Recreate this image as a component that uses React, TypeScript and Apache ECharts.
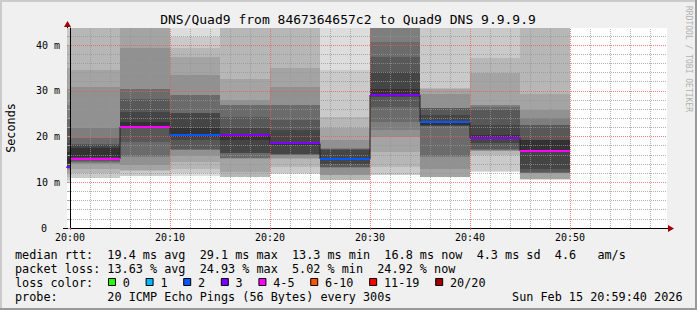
import React, { useEffect, useRef } from 'react';
import * as echarts from 'echarts';

const MONO = '"DejaVu Sans Mono", monospace';

const TITLE = 'DNS/Quad9 from 8467364657c2 to Quad9 DNS 9.9.9.9';
const Y_NAME = 'Seconds';
const WATERMARK = 'RRDTOOL / TOBI OETIKER';

// time window of the graph
const RANGE_START = '19:59:42';
const RANGE_END = '20:59:42';
const STEP_MINUTES = 5;

// one entry per 5-minute step (start time of the step)
const stepStarts = ['19:55', '20:00', '20:05', '20:10', '20:15', '20:20', '20:25', '20:30', '20:35', '20:40', '20:45'];
const medianRtt = [13.3, 15.1, 22.1, 20.4, 20.4, 18.5, 15.1, 29.1, 23.2, 19.7, 16.8];
const lostPings = [3, 4, 5, 2, 3, 3, 2, 3, 2, 3, 5];

// sorted round-trip times (ms) of the 20 ping slots of each step
const rtts1955 = [10.1, 10.6, 11.2, 12.0, 12.6, 13.0, 13.2, 13.4, 13.6, 13.8, 16.7, 18.5, 21.8, 24.0, 27.0, 30.5, 35.0, 40.0, 48.0, 55.0];
const rtts2000 = [10.9, 11.0, 11.95, 13.0, 13.9, 14.3, 14.5, 14.7, 15.0, 15.6, 17.4, 18.1, 18.3, 19.6, 21.8, 30.9, 34.5, 48.0, 53.0, 58.0];
const rtts2005 = [11.3, 11.4, 12.5, 12.6, 13.8, 15.6, 15.7, 18.9, 21.9, 22.0, 23.2, 25.3, 28.2, 30.4, 30.5, 39.3, 48.0, 52.0, 56.0, 60.0];
const rtts2010 = [11.4, 12.0, 13.0, 14.5, 15.8, 17.0, 17.1, 17.2, 19.2, 19.8, 21.8, 25.1, 25.2, 29.1, 29.2, 33.4, 37.4, 39.3, 41.8, 50.0];
const rtts2015 = [11.1, 11.15, 11.2, 12.3, 15.2, 15.25, 15.3, 16.3, 16.4, 19.2, 20.4, 21.8, 24.3, 26.9, 27.0, 28.0, 32.7, 50.0, 55.0, 60.0];
const rtts2020 = [11.9, 12.0, 13.4, 15.2, 15.3, 16.0, 16.05, 16.1, 16.15, 18.1, 18.6, 21.4, 23.6, 26.9, 27.0, 30.9, 34.9, 50.0, 55.0, 60.0];
const rtts2025 = [10.5, 10.55, 10.6, 11.5, 11.6, 13.2, 13.3, 13.4, 14.0, 14.9, 15.3, 17.0, 17.2, 17.3, 17.4, 19.2, 21.8, 24.3, 34.5, 50.0];
const rtts2030 = [11.5, 11.6, 13.4, 16.7, 20.0, 21.5, 23.2, 26.5, 28.7, 29.0, 30.5, 34.2, 37.4, 40.7, 48.0, 52.0, 55.0, 58.0, 62.0, 66.0];
const rtts2035 = [11.1, 11.15, 11.2, 11.25, 13.0, 15.6, 15.7, 22.3, 22.4, 22.6, 23.5, 24.7, 26.2, 26.25, 26.3, 29.4, 30.5, 30.6, 55.0, 60.0];
const rtts2040 = [12.3, 12.4, 16.0, 16.8, 16.9, 17.0, 17.1, 17.3, 18.5, 19.5, 20.3, 22.5, 25.8, 26.5, 26.8, 27.0, 33.8, 37.1, 50.0, 60.0];
const rtts2045 = [10.6, 10.65, 10.7, 10.75, 12.0, 12.05, 12.1, 12.15, 13.0, 17.0, 19.2, 19.3, 22.5, 22.6, 24.0, 25.8, 29.4, 50.0, 55.0, 60.0];
const pingRtts = [rtts1955, rtts2000, rtts2005, rtts2010, rtts2015, rtts2020, rtts2025, rtts2030, rtts2035, rtts2040, rtts2045];

const xTickLabels = ['20:00', '20:10', '20:20', '20:30', '20:40', '20:50'];
const yTickValues = [0, 10, 20, 30, 40];
const Y_MAX = 43.75;

const lossLabels = ['0', '1', '2', '3', '4-5', '6-10', '11-19', '20/20'];
const lossColors = ['#26ff00', '#00b8ff', '#0059ff', '#7e00ff', '#ff00ff', '#ff5500', '#ff0000', '#a10000'];
const lossUpper = [0, 1, 2, 3, 5, 10, 19, 20];

const legendRtt = 'median rtt:  19.4 ms avg  29.1 ms max  13.3 ms min  16.8 ms now  4.3 ms sd  4.6   am/s';
const legendLoss = 'packet loss: 13.63 % avg  24.93 % max  5.02 % min  24.92 % now';
const legendLossColor = 'loss color:';
const legendProbe = 'probe:       20 ICMP Echo Pings (56 Bytes) every 300s';
const legendDate = 'Sun Feb 15 20:59:40 2026';

function toMin(t: string): number {
  const p = t.split(':').map(Number);
  return (p[0] - 20) * 60 + p[1] + (p[2] || 0) / 60;
}
function fmtMin(v: number): string {
  const total = Math.round(v) + 20 * 60;
  const h = Math.floor(total / 60);
  const m = total % 60;
  return `${String(h).padStart(2, '0')}:${String(m).padStart(2, '0')}`;
}
function lossColor(n: number): string {
  const idx = lossUpper.findIndex((u) => n <= u);
  return lossColors[idx < 0 ? lossColors.length - 1 : idx];
}

function buildOption(): any {
  const starts = stepStarts.map(toMin);
  const stepData = starts.map((t, i) => [t, t + STEP_MINUTES, medianRtt[i], i]);
  const xMajor = xTickLabels.map(toMin);

  const minorX: number[] = [];
  for (let m = 2; m < 60; m += 2) if (m % 10 !== 0) minorX.push(m);
  const minorY: number[] = [];
  for (let v = 2; v < Y_MAX; v += 2) if (v % 10 !== 0) minorY.push(v);
  const yTicksAll: number[] = [];
  for (let v = 0; v < Y_MAX; v += 2) yTicksAll.push(v);

  const minorStyle = { color: 'rgba(150,150,150,0.75)', width: 1, type: [1, 1] };
  const majorStyle = { color: 'rgba(235,90,90,0.75)', width: 1, type: [1, 1] };
  const gridLines: any[] = [
    ...minorX.map((v) => ({ xAxis: v, lineStyle: minorStyle })),
    ...minorY.map((v) => ({ yAxis: v, lineStyle: minorStyle })),
    ...xMajor.map((v) => ({ xAxis: v, lineStyle: majorStyle })),
    ...yTickValues.filter((v) => v > 0).map((v) => ({ yAxis: v, lineStyle: majorStyle })),
  ];

  const stepLine = stepData.map((d) => [d[0], d[2]]);
  const last = stepData[stepData.length - 1];
  stepLine.push([last[1], last[2]]);

  // legend boxes
  const charW = 11.8 * 0.6021;
  const legendGraphics: any[] = [];
  let bx = 108;
  lossLabels.forEach((lab, i) => {
    legendGraphics.push({
      type: 'rect',
      shape: { x: bx + 0.5, y: 278.5, width: 7, height: 7 },
      style: { fill: lossColors[i], stroke: '#000', lineWidth: 1 },
    });
    const tx = bx + 14.8;
    legendGraphics.push({
      type: 'text',
      x: tx,
      y: 282.5,
      style: { text: lab, fontFamily: MONO, fontSize: 11.8, fill: '#000', align: 'left', verticalAlign: 'middle' },
    });
    bx = tx + lab.length * charW + 15.7;
  });

  const lineText = (text: string, y: number) => ({
    type: 'text',
    x: 15,
    y,
    style: { text, fontFamily: MONO, fontSize: 11.8, fill: '#000', align: 'left', verticalAlign: 'middle' },
  });

  return {
    animation: false,
    backgroundColor: '#f0f0f0',
    grid: { left: 67, top: 28, width: 600, height: 200, show: true, backgroundColor: '#ffffff', borderWidth: 0 },
    xAxis: {
      type: 'value',
      min: toMin(RANGE_START),
      max: toMin(RANGE_END),
      z: 6,
      axisLine: { show: true, lineStyle: { color: '#000', width: 1 } },
      axisTick: { show: true, customValues: xMajor, length: 2, lineStyle: { color: '#e06060' } },
      axisLabel: {
        customValues: xMajor,
        formatter: (v: number) => fmtMin(v),
        fontFamily: MONO,
        fontSize: 10,
        color: '#000',
        margin: 4,
      },
      splitLine: { show: false },
    },
    yAxis: {
      type: 'value',
      min: 0,
      max: Y_MAX,
      z: 6,
      axisLine: { show: true, lineStyle: { color: '#000', width: 1 } },
      axisTick: { show: true, customValues: yTicksAll, length: 2, lineStyle: { color: '#aaa' } },
      axisLabel: {
        customValues: yTickValues,
        formatter: (v: number) => (v === 0 ? '{z|0}' : `${v} m`),
        fontFamily: MONO,
        fontSize: 10,
        color: '#000',
        margin: 7,
        rich: { z: { fontFamily: MONO, fontSize: 10, color: '#000', padding: [0, 13, 0, 0] } },
      },
      splitLine: { show: false },
    },
    series: [
      {
        type: 'custom',
        name: 'smoke',
        z: 2,
        silent: true,
        encode: { x: [0, 1], y: 2 },
        data: stepData,
        renderItem: (params: any, api: any) => {
          const i = api.value(3);
          const rtts = pingRtts[i];
          const cs = params.coordSys;
          const t0 = api.value(0);
          const xa = Math.round(api.coord([t0, 0])[0]);
          const xb = Math.round(api.coord([api.value(1), 0])[0]);
          const left = Math.max(xa, Math.round(cs.x));
          const right = Math.min(xb, Math.round(cs.x + cs.width));
          if (right <= left) return null;
          const n = rtts.length;
          const half = n / 2;
          const children: any[] = [];
          for (let k = 1; k <= half; k++) {
            const lo = Math.min(rtts[k - 1], Y_MAX);
            const hi = Math.min(rtts[n - k], Y_MAX);
            const yTop = Math.round(api.coord([t0, hi])[1]);
            const yBot = Math.round(api.coord([t0, lo])[1]);
            const g = Math.floor((190 / half) * (half - k)) + 50;
            children.push({
              type: 'rect',
              shape: { x: left, y: yTop, width: right - left, height: Math.max(yBot - yTop, 0) },
              style: { fill: `rgb(${g},${g},${g})` },
            });
          }
          return { type: 'group', children };
        },
      },
      {
        type: 'line',
        name: 'grid',
        data: [],
        silent: true,
        z: 3,
        markLine: { silent: true, z: 3, symbol: ['none', 'none'], label: { show: false }, data: gridLines },
      },
      {
        type: 'line',
        name: 'median',
        step: 'end',
        data: stepLine,
        symbol: 'none',
        silent: true,
        clip: true,
        z: 4,
        lineStyle: { color: '#202020', width: 1 },
      },
      {
        type: 'custom',
        name: 'median loss',
        z: 5,
        silent: true,
        encode: { x: [0, 1], y: 2 },
        data: stepData,
        renderItem: (params: any, api: any) => {
          const cs = params.coordSys;
          const m = api.value(2);
          const pa = api.coord([api.value(0), m]);
          const pb = api.coord([api.value(1), m]);
          const left = Math.max(Math.round(pa[0]), Math.round(cs.x));
          const right = Math.min(Math.round(pb[0]), Math.round(cs.x + cs.width));
          if (right <= left) return null;
          return {
            type: 'rect',
            shape: { x: left, y: Math.round(pa[1]) - 1, width: right - left, height: 2 },
            style: { fill: lossColor(lostPings[api.value(3)]) },
          };
        },
      },
    ],
    graphic: [
      { type: 'rect', z: 10, shape: { x: 0, y: 0, width: 697, height: 2 }, style: { fill: '#cbcbcb' } },
      { type: 'rect', z: 10, shape: { x: 0, y: 0, width: 2, height: 310 }, style: { fill: '#cbcbcb' } },
      { type: 'rect', z: 10, shape: { x: 0, y: 308, width: 697, height: 2 }, style: { fill: '#999999' } },
      { type: 'rect', z: 10, shape: { x: 695, y: 0, width: 2, height: 310 }, style: { fill: '#999999' } },
      {
        type: 'text', z: 10, x: 348, y: 19.5,
        style: { text: TITLE, fontFamily: MONO, fontSize: 13, fill: '#000', align: 'center', verticalAlign: 'middle' },
      },
      {
        type: 'text', z: 10, x: 11, y: 128, rotation: Math.PI / 2,
        style: { text: Y_NAME, fontFamily: MONO, fontSize: 11.8, fill: '#000', align: 'center', verticalAlign: 'middle' },
      },
      {
        type: 'text', z: 10, x: 688, y: 59, rotation: -Math.PI / 2,
        style: { text: WATERMARK, fontFamily: MONO, fontSize: 8, fill: '#b0b0b0', align: 'center', verticalAlign: 'middle' },
      },
      // axis extensions and arrows
      { type: 'line', z: 10, shape: { x1: 63, y1: 228.5, x2: 67, y2: 228.5 }, style: { stroke: '#000', lineWidth: 1 } },
      { type: 'line', z: 10, shape: { x1: 667, y1: 228.5, x2: 669, y2: 228.5 }, style: { stroke: '#000', lineWidth: 1 } },
      { type: 'line', z: 10, shape: { x1: 67.5, y1: 25, x2: 67.5, y2: 28 }, style: { stroke: '#000', lineWidth: 1 } },
      { type: 'polygon', z: 10, shape: { points: [[668, 225], [674, 228.5], [668, 232]] }, style: { fill: '#a00000' } },
      { type: 'polygon', z: 10, shape: { points: [[64, 27], [67.5, 21], [71, 27]] }, style: { fill: '#a00000' } },
      lineText(legendRtt, 254.5),
      lineText(legendLoss, 268.5),
      lineText(legendLossColor, 282.5),
      lineText(legendProbe, 296.5),
      {
        type: 'text', z: 10, x: 682.5, y: 296.5,
        style: { text: legendDate, fontFamily: MONO, fontSize: 11.8, fill: '#000', align: 'right', verticalAlign: 'middle' },
      },
      ...legendGraphics.map((g) => ({ ...g, z: 10 })),
    ],
  };
}

export default function App() {
  const ref = useRef<HTMLDivElement>(null);
  useEffect(() => {
    const chart = echarts.init(ref.current!, null, { renderer: 'svg' });
    chart.setOption(buildOption());
    return () => chart.dispose();
  }, []);
  return <div ref={ref} style={{ position: 'absolute', left: 0, top: 0, width: 697, height: 310 }} />;
}
